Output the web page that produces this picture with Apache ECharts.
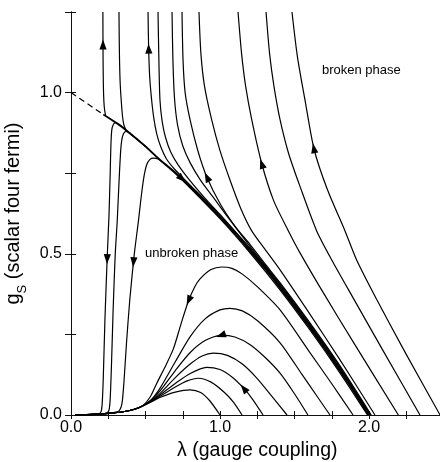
<!DOCTYPE html>
<html>
<head>
<meta charset="utf-8">
<script src="https://cdn.jsdelivr.net/npm/echarts@6.0.0/dist/echarts.min.js"></script>
<style>
  html, body { margin: 0; padding: 0; background: #fff; }
  #chart { width: 440px; height: 462px; }
</style>
</head>
<body>
<div id="chart"></div>
<script>
// tick labels
const xLabelValues = [0, 1, 2];
const yLabelValues = [0, 0.5, 1];

// critical line (lambda, g)
const critDashed = [[0, 1.0], [0.217, 0.932]];
const critLine = [[0.217,0.932],[0.30,0.907],[0.376,0.881],[0.50,0.833],[0.577,0.800],[0.70,0.752],[0.80,0.708],[0.90,0.662],[1.00,0.614],[1.10,0.563],[1.20,0.510],[1.30,0.455],[1.40,0.396],[1.50,0.335],[1.60,0.272],[1.70,0.207],[1.80,0.140],[1.90,0.071],[1.995,0]];

// broken phase flows, from the top edge down
const flowU1 = [[0.214,1.25],[0.215,1.12],[0.217,1.03],[0.221,0.97],[0.226,0.945],[0.232,0.930]];
const flowU2 = [[0.322,1.25],[0.325,1.12],[0.330,1.03],[0.338,0.97],[0.346,0.925],[0.356,0.898],[0.372,0.883],[0.40,0.873]];
const flowU3 = [[0.517,1.25],[0.521,1.14],[0.528,1.05],[0.541,0.978],[0.556,0.92],[0.575,0.873],[0.60,0.835],[0.64,0.795],[0.70,0.760],[0.80,0.713],[0.90,0.667],[1.00,0.619],[1.20,0.515],[1.40,0.401],[1.60,0.277],[1.80,0.145],[2.002,0]];
const flowU4 = [[0.584,1.25],[0.589,1.12],[0.597,0.978],[0.612,0.91],[0.635,0.86],[0.67,0.815],[0.72,0.775],[0.80,0.726],[0.90,0.672],[1.00,0.622],[1.20,0.518],[1.40,0.404],[1.60,0.280],[1.80,0.148],[2.006,0]];
const flowU5 = [[0.678,1.25],[0.684,1.10],[0.695,0.98],[0.715,0.90],[0.75,0.835],[0.80,0.782],[0.87,0.728],[0.95,0.678],[1.05,0.615],[1.20,0.524],[1.40,0.408],[1.60,0.284],[1.80,0.152],[2.010,0]];
const flowU6 = [[0.745,1.25],[0.752,1.10],[0.766,1.00],[0.799,0.916],[0.85,0.822],[0.91,0.740],[1.00,0.656],[1.10,0.586],[1.20,0.530],[1.30,0.470],[1.40,0.412],[1.60,0.288],[1.80,0.156],[2.015,0]];
const flowU7 = [[0.859,1.25],[0.872,1.12],[0.896,1.02],[0.944,0.916],[1.00,0.82],[1.07,0.725],[1.14,0.64],[1.213,0.571],[1.30,0.515],[1.403,0.45],[1.60,0.315],[1.80,0.175],[2.04,0]];
const flowU8 = [[1.121,1.25],[1.145,1.12],[1.172,1.02],[1.213,0.916],[1.28,0.78],[1.36,0.665],[1.459,0.571],[1.537,0.503],[1.70,0.374],[1.90,0.222],[2.197,0]];
const flowU9 = [[1.309,1.25],[1.333,1.12],[1.362,1.02],[1.403,0.916],[1.46,0.812],[1.537,0.709],[1.649,0.571],[1.75,0.481],[1.90,0.358],[2.10,0.195],[2.342,0]];
const flowU10 = [[1.483,1.25],[1.52,1.11],[1.57,0.978],[1.631,0.825],[1.72,0.70],[1.839,0.571],[1.917,0.481],[2.05,0.36],[2.25,0.188],[2.477,0]];

// unbroken phase flows, from the origin outwards
const flowBase = [[0.03,0],[0.15,0.002],[0.25,0.005],[0.35,0.010],[0.42,0.017],[0.48,0.028]];
const flowL1 = [[0.03,0],[0.10,0.001],[0.16,0.002],[0.19,0.004],[0.203,0.012],[0.21,0.04],[0.217,0.12],[0.228,0.30],[0.244,0.50],[0.255,0.62],[0.263,0.75],[0.268,0.84],[0.274,0.885],[0.285,0.902],[0.30,0.907],[0.376,0.881],[0.50,0.833]];
const flowL2 = [[0.03,0],[0.12,0.001],[0.20,0.003],[0.24,0.006],[0.255,0.015],[0.263,0.05],[0.272,0.16],[0.283,0.33],[0.297,0.50],[0.31,0.60],[0.322,0.72],[0.332,0.81],[0.34,0.85],[0.352,0.872],[0.37,0.880],[0.40,0.872],[0.50,0.833],[0.577,0.800]];
const flowL3 = [[0.03,0],[0.15,0.002],[0.25,0.005],[0.30,0.009],[0.325,0.014],[0.342,0.035],[0.355,0.10],[0.372,0.22],[0.395,0.36],[0.425,0.50],[0.452,0.60],[0.472,0.68],[0.49,0.74],[0.508,0.776],[0.53,0.793],[0.553,0.797],[0.58,0.795],[0.62,0.781],[0.70,0.749],[0.80,0.704],[1.00,0.609],[1.20,0.504],[1.40,0.390],[1.60,0.266],[1.80,0.134],[1.99,0]];
const flowA1 = flowBase.concat([[0.53,0.055],[0.575,0.098],[0.63,0.148],[0.687,0.205],[0.74,0.285],[0.787,0.352],[0.83,0.397],[0.866,0.422],[0.94,0.451],[1.011,0.459],[1.08,0.455],[1.15,0.437],[1.25,0.398],[1.403,0.326],[1.60,0.196],[1.75,0.097],[1.893,0]]);
const flowA2 = flowBase.concat([[0.54,0.048],[0.60,0.085],[0.70,0.165],[0.80,0.243],[0.90,0.298],[1.00,0.326],[1.067,0.331],[1.15,0.323],[1.25,0.293],[1.403,0.224],[1.55,0.126],[1.65,0.059],[1.738,0]]);
const flowA3 = flowBase.concat([[0.54,0.046],[0.60,0.076],[0.70,0.138],[0.80,0.194],[0.90,0.231],[1.011,0.248],[1.10,0.242],[1.20,0.219],[1.30,0.18],[1.403,0.13],[1.50,0.066],[1.59,0]]);
const flowA4 = flowBase.concat([[0.54,0.044],[0.60,0.068],[0.70,0.116],[0.80,0.158],[0.88,0.183],[0.955,0.192],[1.05,0.185],[1.15,0.158],[1.25,0.113],[1.35,0.057],[1.45,0]]);
const flowA5 = flowBase.concat([[0.54,0.043],[0.60,0.063],[0.70,0.098],[0.80,0.129],[0.91,0.148],[1.00,0.141],[1.08,0.118],[1.157,0.084],[1.22,0.048],[1.289,0]]);
const flowA6 = flowBase.concat([[0.54,0.042],[0.60,0.059],[0.70,0.087],[0.78,0.106],[0.855,0.114],[0.94,0.102],[1.03,0.07],[1.09,0.04],[1.148,0]]);
const flowA7 = flowBase.concat([[0.54,0.041],[0.60,0.055],[0.70,0.071],[0.80,0.078],[0.87,0.07],[0.93,0.045],[1.0,0]]);

// arrows: curve, lambda, g, direction along the data (+1 / -1)
const arrowMarks = [
  ['U1', 0.213, 1.149, -1],
  ['U3', 0.514, 1.136, -1],
  ['crit', 0.740, 0.730, 1],
  ['U6', 0.912, 0.738, -1],
  ['U8', 1.285, 0.780, -1],
  ['U10', 1.634, 0.828, -1],
  ['L1', 0.232, 0.484, -1],
  ['L3', 0.417, 0.474, -1],
  ['A1', 0.790, 0.355, -1],
  ['A3', 1.005, 0.248, -1],
  ['A5', 1.160, 0.083, -1]
];

const curves = {
  crit: critLine,
  U1: flowU1, U2: flowU2, U3: flowU3, U4: flowU4, U5: flowU5,
  U6: flowU6, U7: flowU7, U8: flowU8, U9: flowU9, U10: flowU10,
  L1: flowL1, L2: flowL2, L3: flowL3,
  A1: flowA1, A2: flowA2, A3: flowA3, A4: flowA4, A5: flowA5, A6: flowA6, A7: flowA7
};

const FONT = '"Liberation Sans", Arial, Helvetica, sans-serif';
const chart = echarts.init(document.getElementById('chart'));

const lineSeries = Object.keys(curves).map(function (key) {
  return {
    type: 'line',
    name: key,
    data: curves[key],
    showSymbol: false,
    smooth: 0.25,
    silent: true,
    lineStyle: { color: '#000', width: key === 'crit' ? 1.8 : 1.2 },
    z: 2
  };
});

lineSeries.push({
  type: 'line',
  name: 'dashed',
  data: critDashed,
  showSymbol: false,
  silent: true,
  lineStyle: { color: '#000', width: 1.2, type: [6, 4] },
  z: 2
});

function renderArrow(params, api) {
  const spec = arrowMarks[params.dataIndex];
  const pts = curves[spec[0]].map(function (p) { return api.coord(p); });
  const a = api.coord([api.value(0), api.value(1)]);
  let best = null;
  for (let k = 0; k < pts.length - 1; k++) {
    const p = pts[k], q = pts[k + 1];
    const vx = q[0] - p[0], vy = q[1] - p[1];
    const l2 = vx * vx + vy * vy || 1;
    let t = ((a[0] - p[0]) * vx + (a[1] - p[1]) * vy) / l2;
    t = Math.max(0, Math.min(1, t));
    const cx = p[0] + t * vx, cy = p[1] + t * vy;
    const d = Math.hypot(a[0] - cx, a[1] - cy);
    if (!best || d < best.d) best = { d: d, c: [cx, cy], v: [vx, vy] };
  }
  const len = Math.hypot(best.v[0], best.v[1]) || 1;
  const dx = best.v[0] / len * spec[3], dy = best.v[1] / len * spec[3];
  const L = 10, W = 3.6;
  const c = best.c;
  const tip = [c[0] + dx * L / 2, c[1] + dy * L / 2];
  const bx = c[0] - dx * L / 2, by = c[1] - dy * L / 2;
  return {
    type: 'polygon',
    shape: { points: [tip, [bx - dy * W, by + dx * W], [bx + dy * W, by - dx * W]] },
    style: { fill: '#000' }
  };
}

lineSeries.push({
  type: 'custom',
  name: 'arrows',
  coordinateSystem: 'cartesian2d',
  renderItem: renderArrow,
  data: arrowMarks.map(function (m) { return [m[1], m[2]]; }),
  silent: true,
  z: 5
});

function xFmt(v) {
  return xLabelValues.some(function (t) { return Math.abs(t - v) < 1e-6; }) ? v.toFixed(1) : '';
}
function yFmt(v) {
  return yLabelValues.some(function (t) { return Math.abs(t - v) < 1e-6; }) ? v.toFixed(1) : '';
}

const axisLineStyle = { lineStyle: { color: '#111', width: 1 } };

chart.setOption({
  animation: false,
  backgroundColor: '#fff',
  grid: { left: 71, top: 12, width: 372.5, height: 403, outerBoundsMode: 'none', containLabel: false },
  xAxis: [
    {
      type: 'value', min: 0, max: 2.5, interval: 0.25, position: 'bottom',
      axisLine: axisLineStyle,
      axisTick: { inside: true, length: 4, lineStyle: { color: '#111' } },
      splitLine: { show: false },
      axisLabel: { formatter: xFmt, color: '#000', fontSize: 16, fontFamily: FONT, margin: 5, showMinLabel: true, showMaxLabel: true },
      name: 'λ (gauge coupling)',
      nameLocation: 'middle',
      nameGap: 21,
      nameTextStyle: { color: '#000', fontSize: 19.5, fontFamily: FONT }
    },
    {
      type: 'value', min: 0, max: 2.5, interval: 0.25, position: 'top',
      axisLine: axisLineStyle,
      axisTick: { inside: true, length: 4, lineStyle: { color: '#111' } },
      splitLine: { show: false },
      axisLabel: { show: false }
    }
  ],
  yAxis: [
    {
      type: 'value', min: 0, max: 1.25, interval: 0.25, position: 'left',
      axisLine: axisLineStyle,
      axisTick: { inside: true, length: 5, lineStyle: { color: '#111' } },
      splitLine: { show: false },
      axisLabel: { formatter: yFmt, color: '#000', fontSize: 16, fontFamily: FONT, margin: 9 },
      name: 'g{s|S} (scalar four fermi)',
      nameLocation: 'middle',
      nameGap: 35,
      nameTextStyle: {
        color: '#000', fontSize: 20, fontFamily: FONT, lineHeight: 30,
        rich: { s: { fontSize: 13, fontFamily: FONT, lineHeight: 13, verticalAlign: 'bottom', color: '#000' } }
      }
    },
    {
      type: 'value', min: 0, max: 1.25, interval: 0.25, position: 'right',
      axisLine: axisLineStyle,
      axisTick: { inside: true, length: 6, lineStyle: { color: '#111' } },
      splitLine: { show: false },
      axisLabel: { show: false }
    }
  ],
  graphic: [
    { type: 'text', left: 322, top: 64, silent: true, style: { text: 'broken phase', fill: '#000', font: '13px ' + FONT } },
    { type: 'text', left: 145, top: 247, silent: true, style: { text: 'unbroken phase', fill: '#000', font: '13px ' + FONT } }
  ],
  series: lineSeries
});
</script>
</body>
</html>
